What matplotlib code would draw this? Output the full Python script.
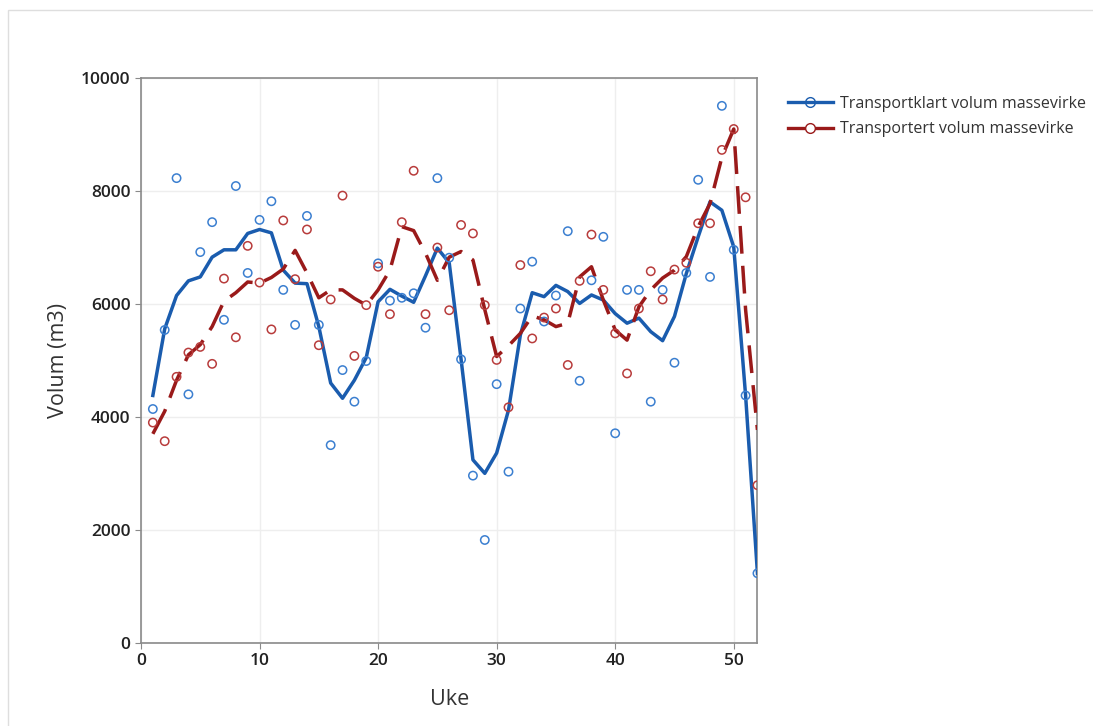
import matplotlib
matplotlib.use("Agg")
import matplotlib.pyplot as plt
from matplotlib.patches import Rectangle

plt.rcParams['font.family'] = ['Open Sans', 'DejaVu Sans']

weeks = list(range(1, 53))

klart_points = [4140, 5540, 8230, 4400, 6920, 7450, 5720, 8090, 6550, 7490,
                7820, 6250, 5630, 7560, 5630, 3500, 4830, 4270, 4990, 6720,
                6060, 6110, 6190, 5580, 8230, 6820, 5020, 2960, 1820, 4580,
                3030, 5920, 6750, 5690, 6150, 7290, 4640, 6420, 7190, 3710,
                6250, 6250, 4270, 6250, 4960, 6550, 8200, 6480, 9510, 6960,
                4380, 1230]

transportert_points = [3900, 3570, 4710, 5140, 5240, 4940, 6450, 5410, 7030, 6380,
                       5550, 7480, 6440, 7320, 5270, 6080, 7920, 5080, 5980, 6660,
                       5820, 7450, 8360, 5820, 7000, 5890, 7400, 7250, 5980, 5010,
                       4170, 6690, 5390, 5760, 5920, 4920, 6410, 7230, 6250, 5480,
                       4770, 5920, 6580, 6080, 6610, 6730, 7430, 7430, 8730, 9100,
                       7890, 2790]

klart_smooth = [4380, 5560, 6150, 6410, 6480, 6830, 6960, 6960, 7250, 7320,
                7260, 6600, 6370, 6360, 5600, 4600, 4330, 4650, 5050, 6040,
                6260, 6140, 6030, 6500, 6990, 6730, 5020, 3240, 3000, 3360,
                4120, 5450, 6200, 6130, 6330, 6220, 6010, 6160, 6070, 5830,
                5660, 5750, 5510, 5350, 5780, 6540, 7190, 7810, 7660, 7010,
                4380, 1230]

transportert_smooth = [3700, 4100, 4650, 5100, 5280, 5600, 6050, 6200, 6390, 6370,
                       6470, 6620, 6950, 6550, 6110, 6250, 6250, 6100, 5980, 6250,
                       6600, 7370, 7300, 6900, 6420, 6830, 6930, 6780, 5900, 5070,
                       5260, 5480, 5790, 5720, 5600, 5660, 6480, 6660, 6070, 5540,
                       5360, 5950, 6250, 6460, 6600, 6840, 7370, 7780, 8600, 9100,
                       5900, 3770]

blue_line = '#1a5cae'
blue_mark = '#3b7fd0'
red_line = '#9a1a1a'
red_mark = '#b83c3c'

fig = plt.figure(figsize=(10.93, 7.26), dpi=100)
fig.patches.append(Rectangle((0.007, -0.01), 1.0, 0.996, transform=fig.transFigure,
                             fill=False, edgecolor='#dedede', linewidth=1.0))
ax = fig.add_axes([0.129, 0.1147, 0.564, 0.7776])

ax.plot(weeks, klart_smooth, color=blue_line, linewidth=2.5, zorder=3)
ax.plot(weeks, transportert_smooth, color=red_line, linewidth=2.5,
        dashes=(8, 3.5), zorder=3)
ax.scatter(weeks, klart_points, s=36, facecolors='none', edgecolors=blue_mark,
           linewidths=1.1, zorder=4)
ax.scatter(weeks, transportert_points, s=36, facecolors='none', edgecolors=red_mark,
           linewidths=1.1, zorder=4)

ax.set_xlim(0, 52)
ax.set_ylim(0, 10000)
ax.set_xticks([0, 10, 20, 30, 40, 50])
ax.set_yticks([0, 2000, 4000, 6000, 8000, 10000])
ax.grid(True, color='#eeeeee', linewidth=1.0, zorder=0)
ax.set_axisbelow(True)
for s in ax.spines.values():
    s.set_color('#8a8a8a')
    s.set_linewidth(1.2)
ax.tick_params(colors='#8a8a8a', labelcolor='#222222', labelsize=12.5, length=4)
for lbl in ax.get_xticklabels() + ax.get_yticklabels():
    lbl.set_fontweight('semibold')
ax.set_xlabel('Uke', fontsize=15.5, color='#333333', labelpad=14)
ax.set_ylabel('Volum (m3)', fontsize=15.5, color='#333333', labelpad=9)

h1, = ax.plot([], [], color=blue_line, linewidth=2.4, marker='o', markersize=7,
              markerfacecolor='none', markeredgecolor=blue_line)
h2, = ax.plot([], [], color=red_line, linewidth=2.4, marker='o', markersize=7,
              markerfacecolor='white', markeredgecolor=red_line)
leg = fig.legend([h1, h2], ['Transportklart volum massevirke', 'Transportert volum massevirke'],
                 loc='upper left', bbox_to_anchor=(0.715, 0.877), frameon=False,
                 fontsize=11.5, handlelength=2.8, labelspacing=0.6, handletextpad=0.45,
                 borderaxespad=0)
for t in leg.get_texts():
    t.set_color('#333333')

fig.savefig('out.png', dpi=100)
